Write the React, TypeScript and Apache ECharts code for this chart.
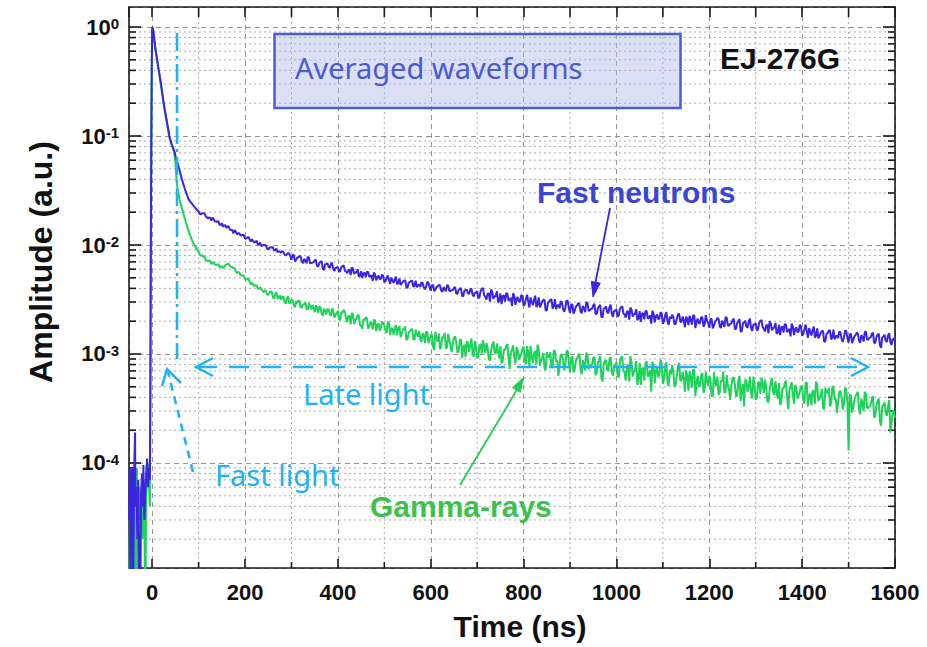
import React, { useEffect, useRef } from "react";
import * as echarts from "echarts";

// Amplitudes below are stored in units of 1e-4 a.u.
const AMP_UNIT = 1e-4;

// Pre-trigger baseline, rising edge and prompt decay (time in ns)
const neutronEarlyTime = [-50, -48, -47, -45, -43, -41, -39, -37, -36, -34, -32, -30, -28, -26, -24, -22, -20, -19, -17, -15, -13, -11, -9, -7, -5, -4, -3, -2, -1, 0, 1, 2, 4, 6, 8, 10, 13, 16, 20, 24, 28, 32, 37, 42, 47, 50, 53, 58, 64, 70, 78, 82, 86, 90, 95];
const neutronEarlyAmp = [0.3, 0.9, 0.05, 0.7, 0.9, 0.06, 0.8, 1.9, 0.4, 0.6, 0.2, 0.7, 0.05, 0.03, 0.5, 0.8, 0.4, 0.96, 0.3, 0.5, 0.8, 1.1, 0.6, 0.9, 0.7, 5, 90, 900, 4200, 10000, 9800, 9400, 8000, 6800, 5900, 5200, 4300, 3600, 2800, 2100, 1650, 1330, 1000, 840, 740, 660, 600, 500, 400, 330, 265, 250, 238, 226, 213];

const gammaEarlyTime = [-50, -48, -46, -45, -44, -42, -40, -38, -36, -34, -33, -31, -29, -27, -25, -23, -21, -19, -17, -15, -13, -11, -9, -8, -6, -5, -4, -3, -2, -1, 0, 1, 2, 4, 6, 8, 10, 13, 16, 20, 24, 28, 32, 37, 42, 47, 50, 52, 54, 56, 59, 63, 67, 72, 77, 82, 86, 90, 95];
const gammaEarlyAmp = [0.05, 0.4, 0.9, 0.6, 0.03, 0.3, 0.5, 0.2, 0.04, 0.7, 0.9, 0.03, 0.4, 0.6, 0.3, 0.5, 0.2, 0.6, 0.4, 0.03, 0.5, 0.7, 0.6, 1.0, 0.5, 0.4, 4, 80, 850, 4000, 9900, 9800, 9400, 7900, 6700, 5800, 5100, 4200, 3500, 2700, 2050, 1600, 1280, 960, 820, 720, 570, 420, 340, 300, 260, 225, 195, 165, 140, 122, 110, 101, 93];

// Delayed-light tail: samples at 100 + 5k ns and the interleaved samples at 102.5 + 5k ns
const TAIL_START_NS = 100;
const TAIL_STEP_NS = 5;
const TAIL_HALF_OFFSET_NS = 2.5;

const neutronTail = [
  203, 191, 196, 184, 175, 177, 178, 164, 163, 153, 158, 152, 143, 147, 137, 128, 133, 128, 123, 125,
  114, 117, 112, 113, 105, 109, 102, 98, 100, 99, 91, 95, 95, 89, 86, 87, 88, 82, 82, 83,
  73, 81, 73, 77, 78, 68, 72, 78, 68, 69, 72, 64, 68, 71, 59, 67, 63, 67, 60, 62,
  63, 57.5, 64, 58, 55, 59, 62.5, 54.5, 56, 51, 57.5, 55, 51, 56.5, 51.5, 47, 53.5, 51, 48.5, 53.5,
  45.5, 50, 47.7, 50.3, 45, 51.3, 44.8, 43, 46.1, 47.2, 40.6, 45.6, 47, 42.5, 40.9, 43.3, 45.4, 40.7, 41.4, 45.1,
  38.2, 42.8, 38.9, 41.6, 42.6, 37.1, 39.7, 42.9, 37.8, 38.5, 40.3, 35.8, 38.6, 40.4, 33.9, 38.4, 36.1, 38.8, 35, 36.5,
  37.7, 33.1, 39.3, 34.4, 31.6, 35.9, 39, 32.1, 34, 29.7, 35.9, 34, 30.2, 35.8, 31.3, 27.6, 33.9, 32.1, 30, 34.9,
  27.7, 31.9, 30.2, 33, 28, 34.3, 28.4, 26.8, 30.1, 31.3, 25.2, 30.2, 31.7, 27.4, 25.8, 28.3, 30.5, 25.9, 26.7, 30.5,
  23.8, 28.5, 24.9, 27.7, 28.8, 23.6, 26.4, 29.8, 24.9, 25.8, 27.9, 23.3, 26.3, 28.3, 21.7, 26.4, 24.2, 27, 23.3, 24.9,
  25.7, 22.6, 26.8, 23.5, 21.6, 24.7, 26.7, 22.1, 23.3, 20.4, 24.7, 23.4, 20.8, 24.7, 21.6, 19, 23.4, 22.2, 20.8, 24.2,
  18.9, 22.7, 19.8, 22, 22.9, 18.7, 20.9, 23.5, 19.7, 20.4, 22, 18.4, 20.8, 22.5, 17.3, 21.1, 19.3, 21.7, 18.7, 20.1,
  17.4, 20.9, 18.2, 20.3, 21, 17.3, 19.3, 21.7, 18.1, 18.9, 20.3, 17, 19.2, 20.9, 16.1, 19.5, 17.8, 20, 17.3, 18.6,
  19.2, 16.9, 20.1, 17.6, 16.1, 18.5, 20, 16.5, 17.5, 15.3, 18.5, 17.5, 15.7, 18.7, 16.2, 14.5, 17.8, 16.9, 15.8, 18.6,
  14.7, 17, 16, 17.3, 14.8, 17.9, 14.8, 13.9, 15.6, 16.2, 13.1, 15.6, 16.5, 14.2, 13.6, 14.8, 16.1, 13.7, 14.2, 16.2,
  12.7, 15.3, 13.4, 14.9, 15.4, 12.7, 14.3, 16, 13.5, 14.1, 15.2, 12.7, 14.3, 15.4, 11.4, 14.5, 13.2, 14.8, 12.8, 13.7,
  13.1,
];

const neutronTailHalf = [
  192, 196, 195, 180, 179, 167, 173, 164, 166, 153, 147, 151, 149, 138, 137, 137, 125, 128, 122, 122.5,
  114.4, 118.7, 107.5, 108.9, 107.6, 101, 105.3, 98.8, 100, 92.2, 95, 95.2, 88.8, 92.6, 87.4, 84.8, 86.6, 80.3, 84.7, 79.2,
  81.2, 71, 76.7, 79.5, 70.3, 74.6, 67.9, 76.8, 68.3, 69.4, 73.5, 63.5, 70, 60.2, 66.6, 68.1, 61.5, 68.7, 57.7, 62,
  56.9, 62.8, 64.9, 57.3, 59.3, 53, 60.2, 56, 59.9, 52.3, 49.8, 55.6, 56.9, 51, 52.8, 55.9, 47.4, 52.3, 49, 52,
  46.6, 52.6, 44, 47.4, 48.3, 43.7, 49.4, 44.5, 47.2, 40.8, 45.2, 46.9, 41.4, 47, 42.8, 41.4, 44.9, 39.3, 45.8, 41,
  42.9, 37.8, 41.2, 43, 38.4, 41, 37.5, 42.5, 37.9, 38.7, 41.2, 35.7, 39.6, 34.2, 38.1, 39.1, 35.6, 39.9, 33.8, 36.4,
  32.4, 38.1, 40.4, 33.6, 35.9, 30.2, 37.3, 33.6, 37.7, 30.8, 28.7, 34.5, 36.1, 30.8, 32.9, 36.1, 28.3, 33.4, 30.5, 33.7,
  28.7, 35, 26.7, 30.3, 31.4, 27, 33, 28.3, 31.4, 25, 29.7, 31.5, 26.1, 31.9, 27.7, 26.3, 30, 24.4, 31.1, 26.3,
  28.5, 23.5, 27.2, 29.3, 24.7, 27.6, 24.2, 29.6, 25.1, 26.1, 28.8, 23.3, 27.4, 21.9, 26, 27.3, 23.6, 28.4, 21.9, 24.9,
  22, 26, 27.5, 23, 24.5, 20.7, 25.5, 23.1, 25.8, 21.2, 19.7, 23.7, 24.8, 21.1, 22.6, 24.9, 19.5, 23, 21.1, 23.3,
  19.9, 24.3, 18.5, 21.1, 21.9, 18.9, 23.1, 19.8, 22, 17.6, 21, 22.4, 18.6, 22.7, 19.9, 19, 21.7, 17.8, 22.7, 19.2,
  20.9, 17.2, 19.9, 21.4, 18, 20.2, 17.7, 21.6, 18.3, 19.1, 21.1, 17, 20.1, 16.1, 19.2, 20.2, 17.5, 21.1, 16.3, 18.6,
  16.4, 19.4, 20.5, 17.1, 18.3, 15.5, 19.1, 17.3, 19.3, 15.8, 14.9, 17.9, 18.8, 16, 17.1, 19, 14.9, 17.6, 16.1, 17.9,
  15.3, 18.6, 14.1, 16, 16.5, 14.1, 17.2, 14.7, 16.3, 12.9, 15.3, 16.4, 13.6, 16.7, 14.5, 13.9, 15.8, 12.9, 16.5, 14,
  15.2, 12.6, 14.5, 15.7, 13.3, 14.9, 13, 16, 13.6, 14.2, 15.7, 12.6, 15, 12, 14.2, 15, 12.9, 15.5, 12.1, 13.7,
];

const gammaTail = [
  87, 80, 78, 73, 71, 71, 69, 66, 66, 63, 64.5, 63, 66, 67, 63, 61.5, 57, 56.5, 53, 52.5,
  49, 49, 45.5, 45, 42, 42.5, 39.5, 39.5, 37, 38, 35, 37.5, 33, 35.5, 32, 34.5, 33.5, 30, 32.5, 29,
  31.5, 28, 30.5, 31, 26.5, 28.5, 29.8, 25.5, 27.5, 28.2, 24.2, 26.5, 27.5, 23.5, 25.9, 23, 25.8, 22.4, 24.8, 23,
  25, 20.5, 23.8, 24.6, 19.6, 22.2, 23.9, 18.9, 21, 22.5, 18.2, 20.9, 21.8, 17.1, 19.6, 16.8, 20.3, 18.6, 16.4, 19.8,
  18.3, 15.6, 19.1, 17.4, 15, 18.4, 17.2, 14.3, 16.9, 17.8, 13.8, 16.1, 17, 13.5, 15.4, 16.3, 12.9, 14.8, 15.9, 12.6,
  14.9, 11.6, 16, 13, 11, 14.4, 15.6, 11.5, 13.6, 10.4, 14.2, 12.8, 10.6, 13.7, 11.4, 9.4, 12.6, 12, 10.3, 13.2,
  9.2, 12.1, 10.1, 11.9, 12.6, 9, 10.8, 13, 10, 10.4, 11.8, 8.6, 10.8, 12.3, 7.3, 10.9, 9.3, 11.6, 8.9, 10.1,
  11.7, 8.1, 10.3, 11.9, 8.3, 10.7, 12.2, 7.8, 9.2, 7.4, 10.4, 9.4, 7.5, 10.7, 8.5, 6.3, 9.9, 8.9, 8, 10.8,
  6.8, 9.5, 7.2, 9.1, 10.1, 6.5, 8.2, 10.3, 7.3, 7.8, 9.2, 6.4, 8.3, 9.6, 5.6, 8.6, 7.2, 9, 6.8, 7.8,
  8.4, 6.2, 9.4, 7, 5.7, 8, 9.6, 6.2, 7.1, 5.2, 8.3, 7.3, 5.7, 8.6, 6.5, 4.5, 7.8, 7, 6.1, 8.9,
  5.3, 7.5, 5.6, 7.2, 7.9, 5, 6.3, 8.3, 5.7, 6, 7.1, 4.6, 6.2, 7.2, 4.1, 6.3, 5.2, 6.7, 4.8, 5.6,
  6.3, 4.1, 6.8, 5.1, 4.2, 5.7, 6.9, 4.5, 5.1, 3.8, 6, 5.3, 4.1, 6.3, 4.7, 3.3, 5.7, 5.1, 4.4, 6.2,
  3.8, 5.5, 4.3, 5.3, 5.8, 3.7, 4.7, 6, 4.2, 4.4, 5.4, 3.6, 4.8, 5.7, 3.1, 5, 4.2, 5.2, 3.9, 4.5,
  4.9, 3.5, 5.4, 4.2, 3.4, 4.6, 5.6, 3.7, 4.2, 3.2, 4.9, 4.4, 3.3, 5, 3.8, 2.9, 4.5, 4, 3.5, 4.7,
  1.3, 4.2, 3.2, 4.1, 4.5, 2.8, 3.5, 4.5, 3.2, 3.3, 3.9, 2.6, 3.4, 3.9, 2.2, 3.4, 2.9, 3.3, 1.9, 3,
  2.6,
];

const gammaTailHalf = [
  81, 80.6, 78.5, 72.1, 71.6, 66.7, 69.4, 66, 66.9, 62.5, 61.4, 65.3, 67.3, 64, 62.8, 61.6, 55.2, 55.9, 52.6, 52.2,
  48, 48.9, 43.4, 43.5, 42.7, 39.7, 40.8, 38, 38.3, 35, 36.3, 37.3, 32.3, 36.8, 33, 31.5, 34, 28.9, 33.9, 29.7,
  31, 26.8, 29.3, 30.6, 26.8, 28.6, 25.8, 29.4, 25.8, 26.2, 28, 23.8, 26.6, 22.5, 25.2, 25.9, 23.1, 26.2, 21.6, 23.4,
  20.7, 24.2, 25.4, 21.1, 22.3, 18.7, 22.9, 20.5, 22.8, 18.5, 17.1, 20.4, 21.2, 17.9, 19, 20.7, 16.2, 19.1, 17.4, 19.2,
  16.4, 19.8, 14.9, 16.9, 17.3, 14.8, 18, 15.3, 16.9, 13.4, 15.8, 16.7, 13.7, 16.7, 14.4, 13.6, 15.5, 12.6, 16, 13.5,
  15, 10.9, 13.8, 15.4, 11.8, 14, 11.2, 15.3, 11.8, 12.5, 14.5, 10.3, 13.3, 9.2, 12.2, 13.1, 10.4, 13.9, 9.4, 11.5,
  9.4, 12.3, 13.4, 10.2, 11.4, 8.7, 12.2, 10.4, 12.5, 9.2, 8.2, 11, 11.9, 9.3, 10.4, 12, 8.2, 10.8, 9.5, 11.2,
  8.7, 11.8, 7.7, 9.5, 10.1, 8, 11, 8.6, 10.2, 7.1, 9.4, 10.4, 7.8, 10.7, 8.7, 8, 9.8, 7.1, 10.5, 8.2,
  9.2, 6.8, 8.6, 9.6, 7.4, 8.8, 7.1, 9.8, 7.6, 8.05, 9.4, 6.7, 8.7, 6.1, 8.1, 8.8, 7, 9.4, 6.3, 7.8,
  6.2, 8.5, 9.4, 6.8, 7.7, 5.6, 8.3, 6.9, 8.6, 5.9, 5.2, 7.5, 8.2, 6.2, 7.1, 8.5, 5.4, 7.6, 6.5, 7.9,
  5.9, 8.4, 5.1, 6.5, 6.9, 5.2, 7.6, 5.7, 6.9, 4.5, 6.3, 6.9, 4.9, 7.1, 5.5, 5, 6.4, 4.4, 6.9, 5.1,
  5.9, 4.1, 5.4, 6.2, 4.5, 5.6, 4.4, 6.4, 4.7, 5.1, 6.1, 4.1, 5.7, 3.7, 5.3, 5.8, 4.5, 6.2, 3.9, 5,
  4, 5.5, 6.1, 4.4, 5, 3.6, 5.4, 4.5, 5.6, 3.9, 3.4, 4.9, 5.4, 4.1, 4.6, 5.5, 3.5, 4.9, 4.2, 5.1,
  3.8, 5.5, 3.3, 4.3, 4.6, 3.5, 5.2, 3.9, 4.8, 3.1, 4.4, 4.9, 3.5, 5, 3.9, 3.6, 4.6, 3.1, 4.9, 3.6,
  4.2, 2.9, 3.8, 4.3, 3.1, 3.9, 3, 4.3, 3.2, 3.4, 4.1, 2.7, 3.7, 2.4, 3.3, 3.6, 2.7, 3.8, 2.3, 3,
];

// Axis ranges
const X_MIN = -50;
const X_MAX = 1600;
const Y_MIN = 1.088e-5;
const Y_MAX = 1.526;
const decadeExponents = [-4, -3, -2, -1, 0];
const minorXTicks = [100, 300, 500, 700, 900, 1100, 1300, 1500];
const minorMantissas = [2, 3, 4, 5, 6, 7, 8, 9];

const BOLD_FONT = '"Liberation Sans", Arial, Helvetica, sans-serif';
const LIGHT_FONT = '"Noto Sans", "Open Sans", sans-serif';
const NEUTRON_COLOR = "#3b24e2";
const GAMMA_COLOR = "#1fd25a";
const NOTE_BLUE = "#1fb2f4";

function buildTrace(earlyT: number[], earlyA: number[], tail: number[], tailHalf: number[]) {
  const pts: number[][] = earlyT.map((t, i) => [t, earlyA[i] * AMP_UNIT]);
  const tailPts: number[][] = [];
  tail.forEach((a, i) => tailPts.push([TAIL_START_NS + i * TAIL_STEP_NS, a * AMP_UNIT]));
  tailHalf.forEach((a, i) =>
    tailPts.push([TAIL_START_NS + TAIL_HALF_OFFSET_NS + i * TAIL_STEP_NS, a * AMP_UNIT])
  );
  tailPts.sort((p, q) => p[0] - q[0]);
  return pts.concat(tailPts);
}

function minorYValues() {
  const out: number[] = [];
  for (let e = -5; e <= 0; e++) {
    minorMantissas.forEach((m) => {
      const v = m * Math.pow(10, e);
      if (v > Y_MIN && v < Y_MAX) out.push(v);
    });
  }
  return out;
}

function arrowHead(tip: number[], from: number[], len: number, half: number) {
  const dx = tip[0] - from[0];
  const dy = tip[1] - from[1];
  const d = Math.hypot(dx, dy);
  const ux = dx / d;
  const uy = dy / d;
  const bx = tip[0] - ux * len;
  const by = tip[1] - uy * len;
  return [
    [bx - uy * half, by + ux * half],
    tip,
    [bx + uy * half, by - ux * half],
  ];
}

export default function App() {
  const ref = useRef<HTMLDivElement>(null);

  useEffect(() => {
    if (!ref.current) return;
    const chart = echarts.init(ref.current, undefined, { renderer: "svg" });

    const neutronData = buildTrace(neutronEarlyTime, neutronEarlyAmp, neutronTail, neutronTailHalf);
    const gammaData = buildTrace(gammaEarlyTime, gammaEarlyAmp, gammaTail, gammaTailHalf);
    const minorY = minorYValues();

    const axisLineStyle = { color: "#1a1a1a", width: 1.6 };
    const tickStyle = { color: "#1a1a1a", width: 1.6 };

    // Dotted minor grid plus minor tick marks on all four sides
    const minorLayer = {
      type: "custom",
      silent: true,
      z: 1,
      xAxisIndex: 0,
      yAxisIndex: 0,
      data: [[0, 1e-3]],
      encode: { x: 0, y: 1 },
      renderItem: (params: any, api: any) => {
        const cs = params.coordSys;
        const left = cs.x;
        const right = cs.x + cs.width;
        const top = cs.y;
        const bottom = cs.y + cs.height;
        const dotted = { stroke: "#ababab", lineWidth: 1, lineDash: [2, 3], fill: null };
        const tick = { stroke: "#1a1a1a", lineWidth: 1.6, fill: null };
        const children: any[] = [];
        minorY.forEach((v) => {
          const y = api.coord([0, v])[1];
          children.push({ type: "line", shape: { x1: left, y1: y, x2: right, y2: y }, style: dotted });
          children.push({ type: "line", shape: { x1: left, y1: y, x2: left + 7, y2: y }, style: tick });
          children.push({ type: "line", shape: { x1: right - 7, y1: y, x2: right, y2: y }, style: tick });
        });
        minorXTicks.forEach((t) => {
          const x = api.coord([t, 1e-3])[0];
          children.push({ type: "line", shape: { x1: x, y1: top, x2: x, y2: bottom }, style: dotted });
          children.push({ type: "line", shape: { x1: x, y1: bottom, x2: x, y2: bottom - 6 }, style: tick });
          children.push({ type: "line", shape: { x1: x, y1: top, x2: x, y2: top + 10 }, style: tick });
        });
        return { type: "group", children };
      },
    };

    const vLineX = 177;
    const hArrowY = 367;

    const option: any = {
      animation: false,
      backgroundColor: "#ffffff",
      grid: { left: 129, right: 32, top: 7, bottom: 79, containLabel: false },
      xAxis: [
        {
          type: "value",
          min: X_MIN,
          max: X_MAX,
          splitNumber: 8,
          position: "bottom",
          axisLine: { onZero: false, lineStyle: axisLineStyle },
          axisTick: { inside: true, length: 9, lineStyle: tickStyle },
          axisLabel: {
            showMinLabel: false,
            margin: 13,
            fontSize: 22,
            fontWeight: "bold",
            fontFamily: BOLD_FONT,
            color: "#111",
            formatter: (v: number) => String(v),
          },
          splitLine: { show: true, lineStyle: { color: "#969696", type: [5, 4], width: 1 } },
          name: "Time (ns)",
          nameLocation: "middle",
          nameGap: 43,
          nameTextStyle: {
            fontSize: 30,
            fontWeight: "bold",
            fontFamily: BOLD_FONT,
            color: "#111",
            padding: [0, 0, 0, 16],
          },
        },
        {
          type: "value",
          min: X_MIN,
          max: X_MAX,
          splitNumber: 8,
          position: "top",
          axisLine: { onZero: false, lineStyle: axisLineStyle },
          axisTick: { inside: true, length: 10, lineStyle: tickStyle },
          axisLabel: { show: false },
          splitLine: { show: false },
        },
      ],
      yAxis: [
        {
          type: "log",
          logBase: 10,
          min: Y_MIN,
          max: Y_MAX,
          position: "left",
          axisLine: { onZero: false, lineStyle: axisLineStyle },
          axisTick: { inside: true, length: 12, lineStyle: tickStyle },
          axisLabel: {
            showMinLabel: false,
            showMaxLabel: false,
            margin: 10,
            formatter: (v: number) => {
              const lg = Math.log10(v);
              const e = Math.round(lg);
              if (Math.abs(lg - e) > 1e-6 || decadeExponents.indexOf(e) < 0) return "";
              return `{b|10}{s|${e}}`;
            },
            rich: {
              b: { fontSize: 22, fontWeight: "bold", fontFamily: BOLD_FONT, color: "#111" },
              s: { fontSize: 15, fontWeight: "bold", fontFamily: BOLD_FONT, color: "#111", verticalAlign: "top" },
            },
          },
          splitLine: { show: true, lineStyle: { color: "#969696", type: [5, 4], width: 1 } },
        },
        {
          type: "log",
          logBase: 10,
          min: Y_MIN,
          max: Y_MAX,
          position: "right",
          axisLine: { onZero: false, lineStyle: axisLineStyle },
          axisTick: { inside: true, length: 12, lineStyle: tickStyle },
          axisLabel: { show: false },
          splitLine: { show: false },
        },
      ],
      series: [
        minorLayer,
        {
          name: "Gamma-rays",
          type: "line",
          data: gammaData,
          showSymbol: false,
          symbol: "none",
          clip: true,
          z: 3,
          lineStyle: { color: GAMMA_COLOR, width: 2 },
        },
        {
          name: "Fast neutrons",
          type: "line",
          data: neutronData,
          showSymbol: false,
          symbol: "none",
          clip: true,
          z: 4,
          lineStyle: { color: NEUTRON_COLOR, width: 2 },
        },
      ],
      graphic: [
        {
          type: "text",
          x: 41,
          y: 262,
          rotation: Math.PI / 2,
          z: 100,
          style: {
            text: "Amplitude (a.u.)",
            fill: "#111",
            fontSize: 32,
            fontWeight: "bold",
            fontFamily: BOLD_FONT,
            align: "center",
            verticalAlign: "middle",
          },
        },
        {
          type: "rect",
          z: 100,
          shape: { x: 274.5, y: 34, width: 406, height: 74 },
          style: { fill: "rgba(170,180,235,0.42)", stroke: "#4a5ed2", lineWidth: 2.5 },
        },
        {
          type: "text",
          x: 295,
          y: 67,
          z: 101,
          style: {
            text: "Averaged waveforms",
            fill: "#4a5acf",
            fontSize: 29,
            fontFamily: LIGHT_FONT,
            align: "left",
            verticalAlign: "middle",
          },
        },
        {
          type: "text",
          x: 720,
          y: 58,
          z: 101,
          style: {
            text: "EJ-276G",
            fill: "#111",
            fontSize: 30,
            fontWeight: "bold",
            fontFamily: BOLD_FONT,
            align: "left",
            verticalAlign: "middle",
          },
        },
        {
          type: "text",
          x: 537,
          y: 192,
          z: 101,
          style: {
            text: "Fast neutrons",
            fill: "#3a45d6",
            fontSize: 30,
            fontWeight: "bold",
            fontFamily: BOLD_FONT,
            align: "left",
            verticalAlign: "middle",
          },
        },
        {
          type: "line",
          z: 101,
          shape: { x1: 610, y1: 208, x2: 595, y2: 285 },
          style: { stroke: NEUTRON_COLOR, lineWidth: 1.8 },
        },
        {
          type: "polygon",
          z: 101,
          shape: { points: arrowHead([593, 297], [610, 208], 15, 4.5) },
          style: { fill: NEUTRON_COLOR, stroke: NEUTRON_COLOR, lineWidth: 1 },
        },
        {
          type: "text",
          x: 370,
          y: 506,
          z: 101,
          style: {
            text: "Gamma-rays",
            fill: "#3cc24c",
            fontSize: 30,
            fontWeight: "bold",
            fontFamily: BOLD_FONT,
            align: "left",
            verticalAlign: "middle",
          },
        },
        {
          type: "line",
          z: 101,
          shape: { x1: 460, y1: 485, x2: 518, y2: 388 },
          style: { stroke: "#22cc55", lineWidth: 1.8 },
        },
        {
          type: "polygon",
          z: 101,
          shape: { points: arrowHead([524, 377], [460, 485], 15, 4.5) },
          style: { fill: "#22cc55", stroke: "#22cc55", lineWidth: 1 },
        },
        // boundary between prompt and delayed light
        {
          type: "line",
          z: 101,
          shape: { x1: vLineX, y1: 33, x2: vLineX, y2: 359 },
          style: { stroke: NOTE_BLUE, lineWidth: 2.5, lineDash: [18, 5, 3, 5] },
        },
        {
          type: "line",
          z: 101,
          shape: { x1: 197, y1: hArrowY, x2: 866, y2: hArrowY },
          style: { stroke: NOTE_BLUE, lineWidth: 2.5, lineDash: [20, 12] },
        },
        {
          type: "polyline",
          z: 101,
          shape: { points: [[213, hArrowY - 9], [196, hArrowY], [213, hArrowY + 9]] },
          style: { stroke: NOTE_BLUE, lineWidth: 2.5, fill: null },
        },
        {
          type: "polyline",
          z: 101,
          shape: { points: [[851, hArrowY - 9], [868, hArrowY], [851, hArrowY + 9]] },
          style: { stroke: NOTE_BLUE, lineWidth: 2.5, fill: null },
        },
        {
          type: "text",
          x: 303,
          y: 393,
          z: 101,
          style: {
            text: "Late light",
            fill: NOTE_BLUE,
            fontSize: 29,
            fontFamily: LIGHT_FONT,
            align: "left",
            verticalAlign: "middle",
          },
        },
        {
          type: "line",
          z: 101,
          shape: { x1: 193, y1: 472, x2: 168, y2: 372 },
          style: { stroke: NOTE_BLUE, lineWidth: 2.5, lineDash: [8, 6] },
        },
        {
          type: "polyline",
          z: 101,
          shape: { points: [[162, 386], [167, 369], [181, 383]] },
          style: { stroke: NOTE_BLUE, lineWidth: 2.5, fill: null },
        },
        {
          type: "text",
          x: 215,
          y: 474,
          z: 101,
          style: {
            text: "Fast light",
            fill: NOTE_BLUE,
            fontSize: 29,
            fontFamily: LIGHT_FONT,
            align: "left",
            verticalAlign: "middle",
          },
        },
      ],
    };

    chart.setOption(option);
    return () => chart.dispose();
  }, []);

  return (
    <div
      ref={ref}
      style={{ position: "fixed", left: 0, top: 0, width: 927, height: 647, background: "#fff" }}
    />
  );
}
